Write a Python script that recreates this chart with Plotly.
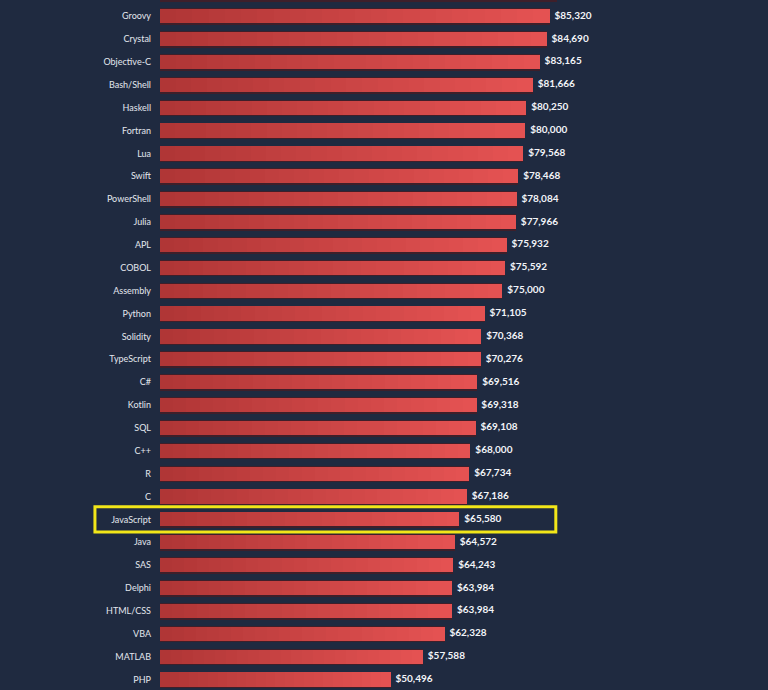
import plotly.graph_objects as go

languages = ["Rust", "Groovy", "Crystal", "Objective-C", "Bash/Shell", "Haskell", "Fortran", "Lua",
             "Swift", "PowerShell", "Julia", "APL", "COBOL", "Assembly", "Python", "Solidity",
             "TypeScript", "C#", "Kotlin", "SQL", "C++", "R", "C", "JavaScript", "Java", "SAS",
             "Delphi", "HTML/CSS", "VBA", "MATLAB", "PHP"]
salaries = [87012, 85320, 84690, 83165, 81666, 80250, 80000, 79568,
            78468, 78084, 77966, 75932, 75592, 75000, 71105, 70368,
            70276, 69516, 69318, 69108, 68000, 67734, 67186, 65580, 64572, 64243,
            63984, 63984, 62328, 57588, 50496]
highlight = "JavaScript"
# first row is cut off by the top edge of the view; its label is not shown
label_hidden = ["Rust"]

BG = "#1f2a40"
N_SEG = 24
c_left = (176, 54, 54)
c_right = (228, 82, 82)

fig = go.Figure()

# shadow under bars
fig.add_trace(go.Bar(
    y=languages, x=salaries, orientation="h",
    marker=dict(color="#3e1f2a", line=dict(color="#3e1f2a", width=1.2)),
    width=0.68, offset=-0.30, xaxis="x", yaxis="y", hoverinfo="skip", showlegend=False))

# gradient bars as stacked segments
for k in range(N_SEG):
    t = k / (N_SEG - 1)
    col = "rgb(%d,%d,%d)" % tuple(round(a + (b - a) * t) for a, b in zip(c_left, c_right))
    fig.add_trace(go.Bar(
        y=languages, x=[v / N_SEG for v in salaries], orientation="h",
        marker=dict(color=col, line=dict(width=0)),
        width=0.62, offset=-0.31, xaxis="x2", yaxis="y",
        hoverinfo="skip", showlegend=False))

# value labels
labels = ["" if lang in label_hidden else "\u00a0\u00a0${:,}".format(v)
          for lang, v in zip(languages, salaries)]
fig.add_trace(go.Scatter(
    y=languages, x=salaries, mode="text", xaxis="x2", yaxis="y",
    text=labels, textposition="middle right",
    textfont=dict(family="Lato", size=10, color="#f2f4f8", weight="bold"),
    hoverinfo="skip", showlegend=False, cliponaxis=False))

hi = languages.index(highlight)
fig.add_shape(type="rect", xref="paper", yref="y",
              x0=-0.107, x1=0.651, y0=hi - 0.55, y1=hi + 0.55,
              line=dict(color="#f2e619", width=3), fillcolor="rgba(0,0,0,0)")

xr = [0, 133160]
fig.update_layout(
    width=768, height=690,
    margin=dict(l=160, r=0, t=0, b=0),
    paper_bgcolor=BG, plot_bgcolor=BG,
    barmode="stack", bargap=0,
    showlegend=False,
    xaxis=dict(range=xr, visible=False, showgrid=False, zeroline=False),
    xaxis2=dict(range=xr, overlaying="x", visible=False, showgrid=False, zeroline=False),
    yaxis=dict(categoryorder="array", categoryarray=languages,
               range=[30.459, 0.292], showgrid=False, zeroline=False,
               ticks="", ticklabelstandoff=8,
               tickfont=dict(family="Lato", size=9, color="#e3e7ee")),
)

fig.write_html("out.html")
